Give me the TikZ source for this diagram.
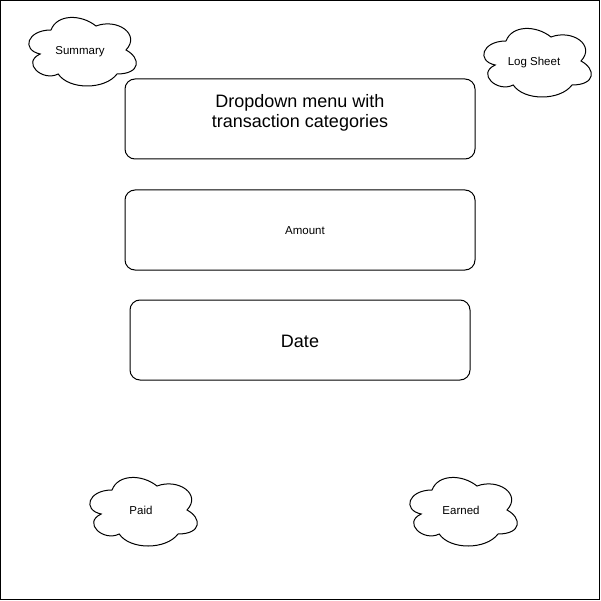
\documentclass[tikz,border=0pt]{standalone}
\usepackage{fontspec}
\setmainfont{Liberation Sans}
\begin{document}
\begin{tikzpicture}[x=1pt,y=-1pt,
  box/.style={draw=black,line width=1pt,rounded corners=10pt,minimum height=80pt,inner sep=0pt},
  cloudline/.style={draw=black,line width=1pt,fill=white},
  small/.style={font=\fontsize{11.5}{13.8}\selectfont,inner sep=0pt,anchor=base},
  big/.style={font=\fontsize{18}{20}\selectfont,inner sep=0pt,anchor=base},
  cloudpic/.pic={
    \path[cloudline] (-30,-20) .. controls (-54,-20) and (-60,0) .. (-40.8,4)
      .. controls (-60,12.8) and (-38.4,32) .. (-22.8,24)
      .. controls (-12,40) and (24,40) .. (36,24)
      .. controls (60,24) and (60,8) .. (45,0)
      .. controls (60,-16) and (36,-32) .. (15,-24)
      .. controls (0,-36) and (-24,-36) .. (-30,-20) -- cycle;
  }]
\useasboundingbox (0,0) rectangle (601,601);
\draw[line width=1pt] (0.5,0.5) rectangle (599.5,599.5);

% boxes
\node[box,minimum width=350pt] (menu) at (300,119) {};
\node[big,align=center] (menutext) at (300,127.5) {Dropdown menu with\\transaction categories};
\node[box,minimum width=350pt] (amount) at (300,230) {};
\node[small] (amounttext) at (305,234.2) {Amount};
\node[box,minimum width=340pt] (date) at (300,340) {};
\node[big] (datetext) at (300,347.5) {Date};

% clouds
\pic at (81,50) {cloudpic};
\node[small] (summary) at (80,54.2) {Summary};
\pic at (536,61) {cloudpic};
\node[small] (logsheet) at (534,65.2) {Log Sheet};
\pic at (142,510) {cloudpic};
\node[small] (paid) at (141,514.2) {Paid};
\pic at (462,510) {cloudpic};
\node[small] (earned) at (461,514.2) {Earned};
\end{tikzpicture}
\end{document}
